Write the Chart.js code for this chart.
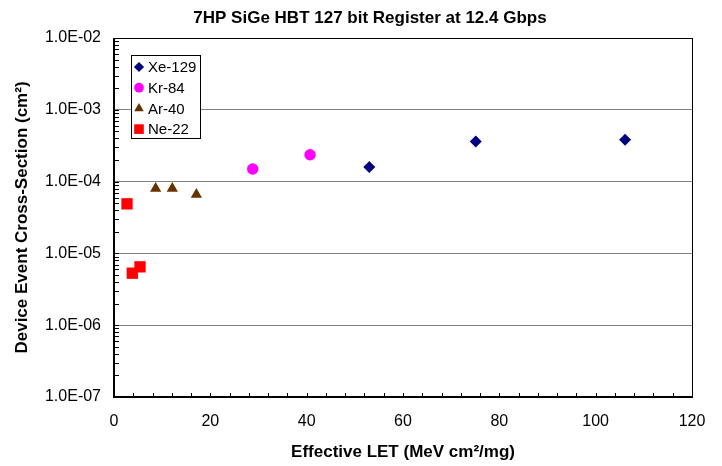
<!DOCTYPE html>
<html>
<head>
<meta charset="utf-8">
<script src="https://cdn.jsdelivr.net/npm/chart.js@4.4.0/dist/chart.umd.min.js"></script>
<style>
  html, body { margin: 0; padding: 0; background: #fff; }
</style>
</head>
<body>
<canvas id="seuChart" width="722" height="466"></canvas>
<script>
// 7HP SiGe HBT register — heavy-ion cross-section vs effective LET

const xeLet = [53.0, 75.1, 106.1];
const xeSigma = [1.6e-4, 3.63e-4, 3.83e-4];
const krLet = [28.8, 40.7];
const krSigma = [1.5e-4, 2.37e-4];
const arLet = [8.65, 12.1, 17.1];
const arSigma = [8.0e-5, 8.0e-5, 6.6e-5];
const neLet = [2.7, 3.8, 5.4];
const neSigma = [4.9e-5, 5.3e-6, 6.5e-6];

const xTickValues = [0, 20, 40, 60, 80, 100, 120];
const yTickValues = [1e-7, 1e-6, 1e-5, 1e-4, 1e-3, 1e-2];
const yTickLabels = ['1.0E-07', '1.0E-06', '1.0E-05', '1.0E-04', '1.0E-03', '1.0E-02'];

const chartTitle = '7HP SiGe HBT 127 bit Register at 12.4 Gbps';
const FONT = "'Liberation Sans', Arial, sans-serif";

Chart.defaults.font.family = FONT;
Chart.defaults.color = '#000';

function series(label, xs, ys, style, color, radius) {
  return {
    label,
    data: xs.map((x, i) => ({ x, y: ys[i] })),
    pointStyle: style,
    pointRadius: radius,
    pointHoverRadius: radius,
    pointBackgroundColor: color,
    pointBorderColor: color,
    pointBorderWidth: 0,
    showLine: false,
  };
}

// title, frame, inside tick marks and boxed legend (Excel look)
const excelFrame = {
  id: 'excelFrame',
  beforeDraw(chart) {
    const { ctx } = chart;
    ctx.save();
    ctx.font = 'bold 17px ' + FONT;
    ctx.fillStyle = '#000';
    ctx.textAlign = 'center';
    ctx.textBaseline = 'middle';
    ctx.fillText(chartTitle, 370, 18);
    ctx.restore();
  },
  beforeDatasetsDraw(chart) {
    const { ctx, chartArea: a, scales: { x, y } } = chart;
    ctx.save();
    ctx.strokeStyle = '#000';
    ctx.lineWidth = 1;
    ctx.beginPath();
    for (let e = -7; e < -2; e++) {
      for (let m = 1; m < 10; m++) {
        const py = Math.round(y.getPixelForValue(m * Math.pow(10, e))) + 0.5;
        ctx.moveTo(a.left, py);
        ctx.lineTo(a.left + 5, py);
      }
    }
    for (let v = 4; v < 120; v += 4) {
      const px = Math.round(x.getPixelForValue(v)) + 0.5;
      ctx.moveTo(px, a.bottom);
      ctx.lineTo(px, a.bottom - 4);
    }
    ctx.stroke();
    ctx.strokeRect(Math.round(a.left) + 0.5, Math.round(a.top) + 0.5, Math.round(a.width), Math.round(a.height));
    ctx.lineWidth = 2;
    ctx.beginPath();
    ctx.moveTo(a.left, a.top);
    ctx.lineTo(a.left, a.bottom);
    ctx.lineTo(a.right, a.bottom);
    ctx.stroke();
    ctx.restore();
  },
  afterDatasetsDraw(chart) {
    const { ctx, chartArea: a } = chart;
    const bx = Math.round(a.left) + 17, by = Math.round(a.top) + 17;
    ctx.save();
    ctx.fillStyle = '#fff';
    ctx.fillRect(bx, by, 69, 83);
    ctx.strokeStyle = '#000';
    ctx.lineWidth = 1;
    ctx.strokeRect(bx + 0.5, by + 0.5, 69, 83);
    ctx.font = '15px ' + FONT;
    ctx.textBaseline = 'middle';
    chart.data.datasets.forEach((ds, i) => {
      const cy = by + 12 + i * 20.7;
      ctx.fillStyle = ds.pointBackgroundColor;
      Chart.helpers.drawPoint(ctx, { pointStyle: ds.pointStyle, radius: ds.pointRadius * 0.85, rotation: 0, borderWidth: 0 }, bx + 8, cy);
      ctx.fillStyle = '#000';
      ctx.fillText(ds.label, bx + 17, cy + 1);
    });
    ctx.restore();
  }
};

new Chart(document.getElementById('seuChart').getContext('2d'), {
  type: 'scatter',
  data: {
    datasets: [
      series('Xe-129', xeLet, xeSigma, 'rectRot', '#000080', 6),
      series('Kr-84', krLet, krSigma, 'circle', '#FF00FF', 5.7),
      series('Ar-40', arLet, arSigma, 'triangle', '#663300', 6.5),
      series('Ne-22', neLet, neSigma, 'rect', '#FF0000', 8),
    ]
  },
  options: {
    responsive: false,
    animation: false,
    layout: { padding: { left: 0, right: 30, top: 38, bottom: 0 } },
    plugins: {
      legend: { display: false },
      tooltip: { enabled: false },
      title: { display: false }
    },
    scales: {
      x: {
        type: 'linear', min: 0, max: 120,
        afterBuildTicks: s => { s.ticks = xTickValues.map(v => ({ value: v })); },
        afterFit: s => { s.height = 69; },
        grid: { display: false, drawTicks: false },
        border: { display: false },
        ticks: { font: { size: 16 }, color: '#000', padding: 15, maxRotation: 0 },
        title: {
          display: true,
          text: 'Effective LET (MeV cm²/mg)',
          color: '#000',
          font: { size: 17, weight: 'bold' },
          padding: { top: 0, bottom: 3 }
        }
      },
      y: {
        type: 'logarithmic', min: 1e-7, max: 1e-2,
        afterBuildTicks: s => { s.ticks = yTickValues.map(v => ({ value: v })); },
        afterFit: s => { s.width = 114; },
        grid: { color: '#808080', lineWidth: 1, drawTicks: false },
        border: { display: false },
        ticks: {
          font: { size: 16 }, color: '#000', padding: 13,
          callback: v => yTickLabels[yTickValues.indexOf(v)]
        },
        title: {
          display: true,
          text: 'Device Event Cross-Section (cm²)',
          color: '#000',
          font: { size: 17, weight: 'bold' },
          padding: { top: 12, bottom: 0 }
        }
      }
    }
  },
  plugins: [excelFrame]
});
</script>
</body>
</html>
